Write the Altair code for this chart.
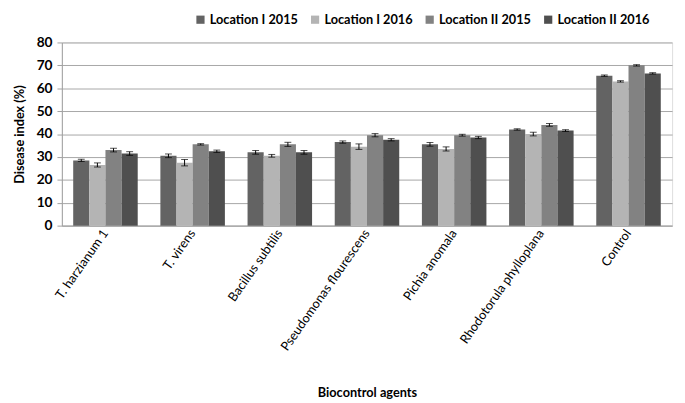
import altair as alt
import pandas as pd

agents = ["T. harzianum 1", "T. virens", "Bacillus subtilis", "Pseudomonas flourescens",
          "Pichia anomala", "Rhodotorula phylloplana", "Control"]
series = ["Location I 2015", "Location I 2016", "Location II 2015", "Location II 2016"]
loc1_2015 = [28.5, 30.5, 32.0, 36.5, 35.5, 42.0, 65.5]
loc1_2016 = [26.5, 27.5, 30.5, 34.5, 33.5, 40.0, 63.0]
loc2_2015 = [33.0, 35.5, 35.5, 39.5, 39.5, 44.0, 70.0]
loc2_2016 = [31.5, 32.5, 32.0, 37.5, 38.5, 41.5, 66.5]
err1_2015 = [0.5, 0.8, 0.8, 0.5, 0.8, 0.3, 0.3]
err1_2016 = [0.9, 1.4, 0.6, 1.2, 0.9, 0.8, 0.3]
err2_2015 = [0.8, 0.3, 0.9, 0.7, 0.4, 0.6, 0.3]
err2_2016 = [0.8, 0.5, 0.8, 0.5, 0.5, 0.4, 0.3]
colors = ["#636363", "#b4b4b4", "#828282", "#4f4f4f"]

rows = []
for vals, errs, s in [(loc1_2015, err1_2015, series[0]), (loc1_2016, err1_2016, series[1]),
                      (loc2_2015, err2_2015, series[2]), (loc2_2016, err2_2016, series[3])]:
    for a, v, e in zip(agents, vals, errs):
        rows.append({"agent": a, "series": s, "value": v, "lo": v - e, "hi": v + e})
df = pd.DataFrame(rows)

font = "Lato"

x = alt.X("agent:N", sort=agents, title="Biocontrol agents",
          scale=alt.Scale(paddingInner=0.26, paddingOuter=0.13),
          axis=alt.Axis(labelAngle=-55, labelFontSize=13, labelColor="black",
                        titleFontSize=13, titleFontWeight="bold", titlePadding=34,
                        ticks=False, domainColor="#a0a0a0", labelPadding=5,
                        labelFont=font, titleFont=font, labelLimit=200))
xo = alt.XOffset("series:N", sort=series)
yscale = alt.Scale(domain=[0, 80], nice=False)
yaxis = alt.Axis(tickCount=8, labelOverlap=False,
                 labelFontSize=14, labelFontWeight="bold",
                 labelColor="black", titleFontSize=13, titleFontWeight="bold",
                 gridColor="#a6a6a6", domainColor="#a0a0a0", tickColor="#a0a0a0",
                 tickSize=5, labelPadding=5, labelFont=font, titleFont=font,
                 titlePadding=10)
ytitle = "Disease index (%)"

base = alt.Chart(df)
bars = base.mark_bar(stroke=None).encode(
    x=x, xOffset=xo,
    y=alt.Y("value:Q", title=ytitle, scale=yscale, axis=yaxis),
    color=alt.Color("series:N", sort=series, scale=alt.Scale(domain=series, range=colors),
                    legend=alt.Legend(orient="none", legendX=135, legendY=-30,
                                      title=None, direction="horizontal",
                                      symbolType="square", symbolSize=70, labelFontSize=13,
                                      labelFontWeight="bold", labelFont=font, columnPadding=10,
                                      symbolStrokeWidth=0, padding=0, labelOffset=3)),
)
rules = base.mark_rule(color="black", strokeWidth=1).encode(
    x=x, xOffset=xo, y=alt.Y("lo:Q", title=ytitle, scale=yscale, axis=yaxis), y2="hi:Q")
cap_lo = base.mark_tick(color="black", thickness=1, size=7).encode(
    x=x, xOffset=xo, y=alt.Y("lo:Q", title=ytitle, scale=yscale, axis=yaxis))
cap_hi = base.mark_tick(color="black", thickness=1, size=7).encode(
    x=x, xOffset=xo, y=alt.Y("hi:Q", title=ytitle, scale=yscale, axis=yaxis))

chart = alt.layer(bars, rules, cap_lo, cap_hi).properties(
    width=623, height=187,
    padding={"top": 1, "left": 5, "right": 5, "bottom": 5},
).configure_view(stroke=None).configure(background="white")

chart.save("out.html", embed_options={"renderer": "svg", "actions": False})
